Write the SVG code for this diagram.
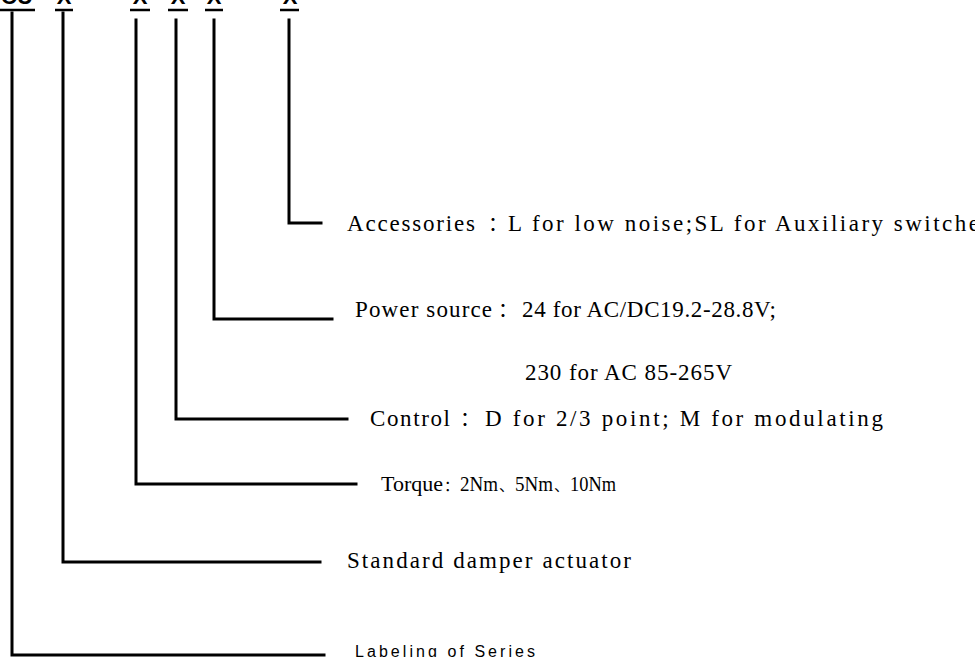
<svg xmlns="http://www.w3.org/2000/svg" width="975" height="657" viewBox="0 0 975 657">
<style>
.code{font-family:"Liberation Sans",Arial,sans-serif;font-weight:bold;font-size:22px;fill:#000}
.ul{stroke:#000;stroke-width:2.5;fill:none}
.conn{stroke:#000;stroke-width:3;fill:none;stroke-linejoin:miter;stroke-linecap:square}
.t{font-family:"Liberation Serif","Times New Roman",serif;font-size:23px;fill:#000}
.tq{font-family:"Liberation Serif","Times New Roman",serif;font-size:21px;fill:#000}
.cjk{font-family:"Noto Sans CJK SC","Liberation Serif",sans-serif;font-size:20px;fill:#000}
.cjks{font-family:"Noto Sans CJK SC","Liberation Serif",sans-serif;font-size:15px;fill:#000}
.s{font-family:"Liberation Sans",Arial,sans-serif;font-size:16px;fill:#000}
</style>
<rect width="975" height="657" fill="#fff"/>
<g id="code">
<text class="code" x="1" y="3.5">CU</text>
<text class="code" x="64" y="3.5" text-anchor="middle">X</text>
<text class="code" x="140" y="3.5" text-anchor="middle">X</text>
<text class="code" x="178" y="3.5" text-anchor="middle">X</text>
<text class="code" x="214" y="3.5" text-anchor="middle">X</text>
<text class="code" x="290" y="3.5" text-anchor="middle">X</text>
<line class="ul" x1="0" y1="10" x2="35" y2="10"/>
<line class="ul" x1="55" y1="10" x2="73" y2="10"/>
<line class="ul" x1="130" y1="10" x2="150" y2="10"/>
<line class="ul" x1="168" y1="10" x2="188" y2="10"/>
<line class="ul" x1="205" y1="10" x2="223" y2="10"/>
<line class="ul" x1="280" y1="10" x2="299" y2="10"/>
</g>
<g id="connectors">
<polyline class="conn" points="289,20 289,223 321,223"/>
<polyline class="conn" points="214,20 214,319 332,319"/>
<polyline class="conn" points="176,20 176,419 347,419"/>
<polyline class="conn" points="136,20 136,484 356,484"/>
<polyline class="conn" points="63,13 63,562 320,562"/>
<polyline class="conn" points="12,13 12,655 324,655"/>
</g>
<g id="accessories">
<text class="t" x="347" y="231" textLength="128" lengthAdjust="spacing">Accessories</text>
<text class="cjk" x="488" y="231">：</text>
<text class="t" x="508" y="231" textLength="471" lengthAdjust="spacing">L for low noise;SL for Auxiliary switche</text>
</g>
<g id="power">
<text class="t" x="355" y="317" textLength="137" lengthAdjust="spacing">Power source</text>
<text class="cjk" x="498" y="317">：</text>
<text class="t" x="522" y="317" textLength="254" lengthAdjust="spacing">24 for AC/DC19.2-28.8V;</text>
<text class="t" x="525" y="380" textLength="207" lengthAdjust="spacing">230 for AC 85-265V</text>
</g>
<g id="control">
<text class="t" x="370" y="426" textLength="80" lengthAdjust="spacing">Control</text>
<text class="cjk" x="460" y="426">：</text>
<text class="t" x="485" y="426" textLength="398" lengthAdjust="spacing">D for 2/3 point; M for modulating</text>
</g>
<g id="torque">
<text class="tq" x="381" y="491" textLength="62" lengthAdjust="spacingAndGlyphs">Torque</text>
<text class="cjks" x="444" y="491">：</text>
<text class="tq" x="460" y="491" textLength="38" lengthAdjust="spacingAndGlyphs">2Nm</text>
<text class="cjks" x="499" y="491">、</text>
<text class="tq" x="515" y="491" textLength="38" lengthAdjust="spacingAndGlyphs">5Nm</text>
<text class="cjks" x="554" y="491">、</text>
<text class="tq" x="570" y="491" textLength="46" lengthAdjust="spacingAndGlyphs">10Nm</text>
</g>
<g id="standard">
<text class="t" x="347" y="568" textLength="284" lengthAdjust="spacing">Standard damper actuator</text>
</g>
<g id="series">
<text class="s" x="355" y="657" textLength="180" lengthAdjust="spacing">Labeling of Series</text>
</g>
</svg>
